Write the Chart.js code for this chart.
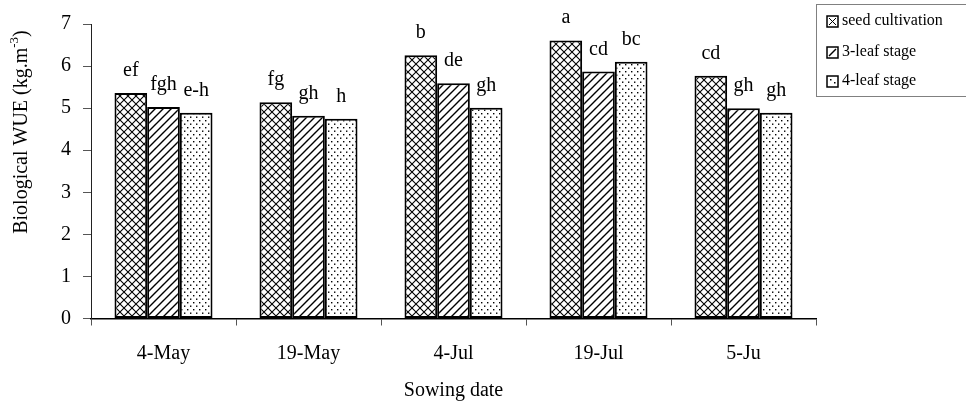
<!DOCTYPE html>
<html>
<head>
<meta charset="utf-8">
<script src="https://cdn.jsdelivr.net/npm/chart.js@4/dist/chart.umd.min.js"></script>
<style>
  html, body { margin: 0; padding: 0; background: #fff; }
  canvas { display: block; }
</style>
</head>
<body>
<canvas id="wueChart" width="966" height="407"></canvas>
<script>
const categories = ['4-May', '19-May', '4-Jul', '19-Jul', '5-Ju'];
const seriesNames = ['seed cultivation', '3-leaf stage', '4-leaf stage'];
const seedCultivation = [5.36, 5.14, 6.26, 6.61, 5.77];
const leaf3Stage = [5.03, 4.82, 5.59, 5.87, 5.00];
const leaf4Stage = [4.89, 4.75, 5.01, 6.10, 4.89];
const seedLetters = ['ef', 'fg', 'b', 'a', 'cd'];
const leaf3Letters = ['fgh', 'gh', 'de', 'cd', 'gh'];
const leaf4Letters = ['e-h', 'h', 'gh', 'bc', 'gh'];
const yMin = 0;
const yMax = 7;
const yStep = 1;

(function () {
    const serif = '"Liberation Serif", "Times New Roman", serif';

    // small tiles used as bar fills
    const makePattern = (kind) => {
        const c = document.createElement('canvas');
        const ctx = c.getContext('2d');
        if (kind === 'cross') {
            c.width = 8; c.height = 8;
            ctx.fillStyle = '#fff';
            ctx.fillRect(0, 0, 8, 8);
            ctx.strokeStyle = '#000';
            ctx.lineWidth = 1.1;
            ctx.beginPath();
            ctx.moveTo(0, 0); ctx.lineTo(8, 8);
            ctx.moveTo(0, 8); ctx.lineTo(8, 0);
            ctx.stroke();
        } else if (kind === 'hatch') {
            c.width = 8; c.height = 8;
            ctx.fillStyle = '#fff';
            ctx.fillRect(0, 0, 8, 8);
            ctx.strokeStyle = '#000';
            ctx.lineWidth = 1.4;
            ctx.beginPath();
            ctx.moveTo(0, 8); ctx.lineTo(8, 0);
            ctx.moveTo(-2, 2); ctx.lineTo(2, -2);
            ctx.moveTo(6, 10); ctx.lineTo(10, 6);
            ctx.stroke();
        } else {
            c.width = 6; c.height = 7;
            ctx.fillStyle = '#fff';
            ctx.fillRect(0, 0, 6, 7);
            ctx.fillStyle = '#000';
            ctx.fillRect(1, 1, 1.4, 1.4);
            ctx.fillRect(4, 4.5, 1.4, 1.4);
        }
        return ctx.createPattern(c, 'repeat');
    };

    const patterns = [makePattern('cross'), makePattern('hatch'), makePattern('dots')];
    const letters = [seedLetters, leaf3Letters, leaf4Letters];

    const letterPlugin = {
        id: 'letters',
        afterDatasetsDraw(chart) {
            const ctx = chart.ctx;
            ctx.save();
            ctx.font = '20px ' + serif;
            ctx.fillStyle = '#000';
            ctx.textAlign = 'center';
            ctx.textBaseline = 'alphabetic';
            chart.data.datasets.forEach((ds, i) => {
                chart.getDatasetMeta(i).data.forEach((bar, j) => {
                    ctx.fillText(letters[i][j], bar.x, bar.y - 17);
                });
            });
            ctx.restore();
        }
    };

    const extrasPlugin = {
        id: 'extras',
        afterDraw(chart) {
            const ctx = chart.ctx;
            ctx.save();
            // y axis title with superscript
            ctx.translate(22, 132);
            ctx.rotate(-Math.PI / 2);
            ctx.fillStyle = '#000';
            ctx.textBaseline = 'middle';
            ctx.font = '20px ' + serif;
            const main = 'Biological WUE (kg.m';
            ctx.font = '13px ' + serif;
            const sup = '-3';
            const supW = ctx.measureText(sup).width;
            ctx.font = '20px ' + serif;
            const mainW = ctx.measureText(main).width;
            const closeW = ctx.measureText(')').width;
            let x = -(mainW + supW + closeW) / 2;
            ctx.textAlign = 'left';
            ctx.fillText(main, x, 0);
            x += mainW;
            ctx.font = '13px ' + serif;
            ctx.fillText(sup, x, -7);
            x += supW;
            ctx.font = '20px ' + serif;
            ctx.fillText(')', x, 0);
            ctx.restore();

            // legend box
            ctx.save();
            ctx.strokeStyle = '#808080';
            ctx.lineWidth = 1;
            ctx.strokeRect(816.5, 4.5, 200, 92);
            ctx.font = '16px ' + serif;
            ctx.fillStyle = '#000';
            ctx.textBaseline = 'middle';
            const rows = [21, 52, 81];
            seriesNames.forEach((name, i) => {
                const ix = 827, iy = rows[i] - 5;
                ctx.fillStyle = '#fff';
                ctx.fillRect(ix, iy, 11, 11);
                ctx.strokeStyle = '#000';
                ctx.lineWidth = 1.5;
                ctx.strokeRect(ix, iy, 11, 11);
                ctx.lineWidth = 1;
                ctx.beginPath();
                if (i === 0) {
                    ctx.moveTo(ix + 2, iy + 2); ctx.lineTo(ix + 9, iy + 9);
                    ctx.moveTo(ix + 9, iy + 2); ctx.lineTo(ix + 2, iy + 9);
                    ctx.stroke();
                } else if (i === 1) {
                    ctx.lineWidth = 1.5;
                    ctx.moveTo(ix + 2, iy + 9); ctx.lineTo(ix + 9, iy + 2);
                    ctx.stroke();
                } else {
                    ctx.fillStyle = '#000';
                    ctx.fillRect(ix + 3, iy + 3, 1.5, 1.5);
                    ctx.fillRect(ix + 7, iy + 6, 1.5, 1.5);
                }
                ctx.fillStyle = '#000';
                ctx.fillText(name, 842, rows[i]);
            });
            ctx.restore();
        }
    };

    const values = [seedCultivation, leaf3Stage, leaf4Stage];

    new Chart(document.getElementById('wueChart').getContext('2d'), {
        type: 'bar',
        data: {
            labels: categories,
            datasets: seriesNames.map((name, i) => ({
                label: name,
                data: values[i],
                backgroundColor: patterns[i],
                borderColor: '#000',
                borderWidth: 2,
                borderSkipped: false,
                barPercentage: 1,
                categoryPercentage: 0.676
            }))
        },
        options: {
            responsive: false,
            devicePixelRatio: 1,
            animation: { duration: 0 },
            layout: { padding: { top: 21, right: 150, left: 0, bottom: 0 } },
            plugins: {
                legend: { display: false },
                tooltip: { enabled: false }
            },
            scales: {
                x: {
                    grid: {
                        drawOnChartArea: false,
                        tickLength: 7,
                        color: '#555'
                    },
                    border: { color: '#000', width: 1.5 },
                    ticks: {
                        color: '#000',
                        font: { family: serif, size: 20 },
                        padding: 16
                    },
                    title: {
                        display: true,
                        text: 'Sowing date',
                        color: '#000',
                        font: { family: serif, size: 20 },
                        padding: { top: 0, bottom: 4 }
                    },
                    afterFit: (scale) => { scale.height = 88.5; }
                },
                y: {
                    min: yMin,
                    max: yMax,
                    grid: {
                        drawOnChartArea: false,
                        tickLength: 8,
                        color: '#555'
                    },
                    border: { color: '#222', width: 1 },
                    ticks: {
                        stepSize: yStep,
                        color: '#000',
                        font: { family: serif, size: 20 },
                        padding: 12
                    },
                    afterFit: (scale) => { scale.width = 91; }
                }
            }
        },
        plugins: [letterPlugin, extrasPlugin]
    });
})();
</script>
</body>
</html>
